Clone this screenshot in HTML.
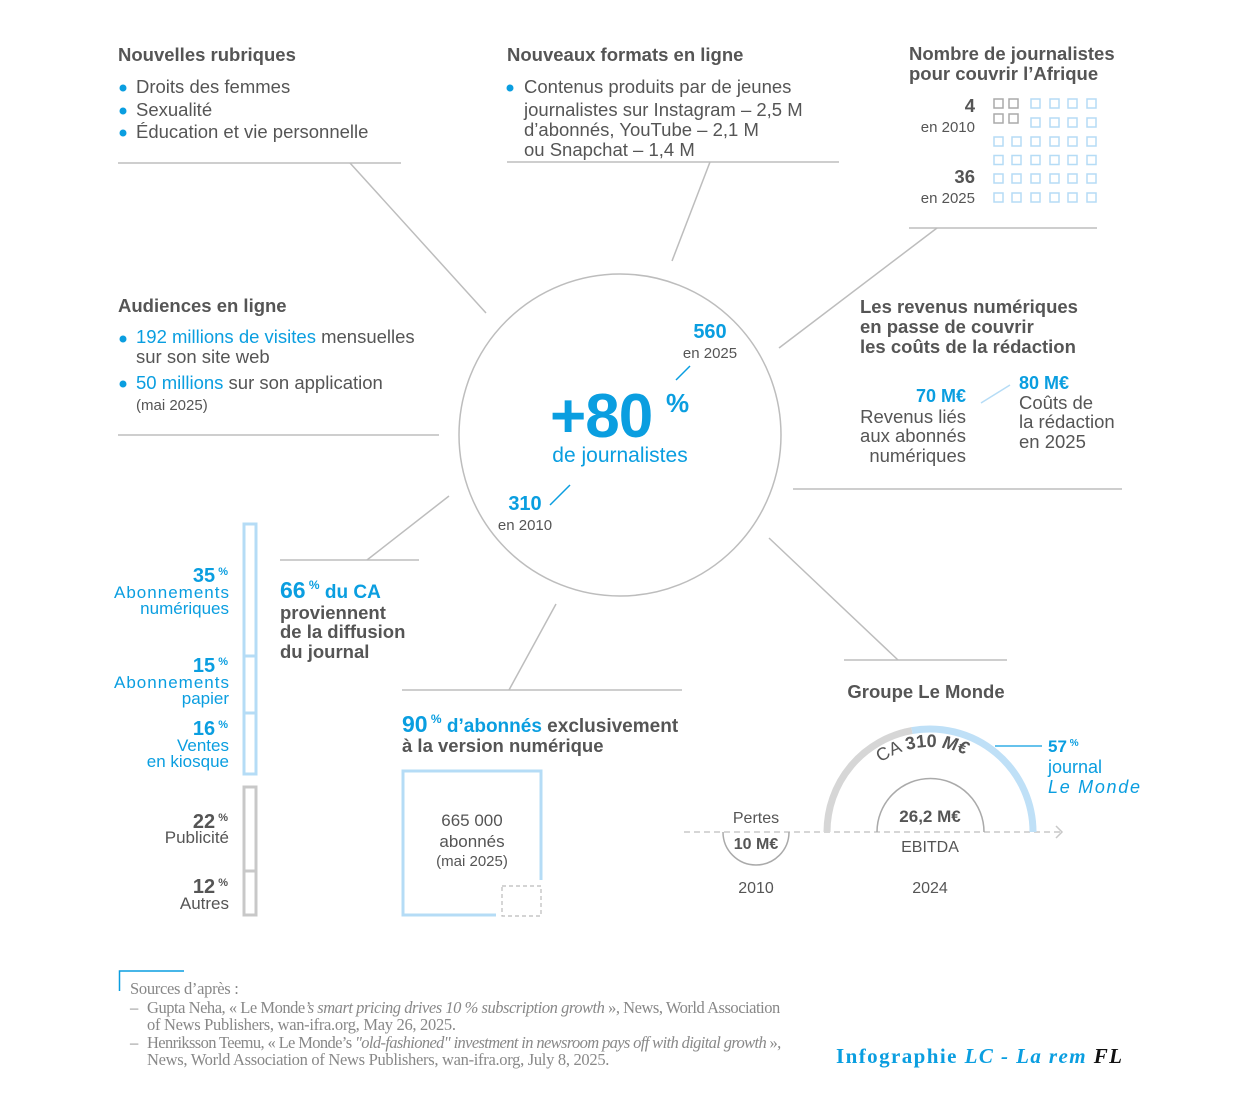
<!DOCTYPE html>
<html><head><meta charset="utf-8"><style>
html,body{margin:0;padding:0;background:#fff}
svg{display:block}
text{font-family:"Liberation Sans",sans-serif}
.h{font-size:18.5px;font-weight:bold;fill:#555}
.t{font-size:18.5px;fill:#555}
.b{fill:#0a9ee0}
.bb{fill:#0a9ee0;font-weight:bold}
.s{font-family:"Liberation Serif",serif;font-size:16.5px;fill:#888;letter-spacing:-0.3px}
</style></head><body>
<svg width="1240" height="1103" viewBox="0 0 1240 1103" xmlns="http://www.w3.org/2000/svg">
<g stroke="#bdbdbd" stroke-width="1.5" fill="none">
<line x1="118" y1="163" x2="401" y2="163"/><line x1="350" y1="163" x2="486" y2="313"/>
<line x1="507" y1="162" x2="839" y2="162"/><line x1="710" y1="162" x2="672" y2="261"/>
<line x1="909" y1="228" x2="1097" y2="228"/><line x1="937" y1="228" x2="779" y2="348"/>
<line x1="118" y1="435" x2="439" y2="435"/>
<line x1="793" y1="489" x2="1122" y2="489"/>
<line x1="769" y1="538" x2="898" y2="660"/><line x1="844" y1="660" x2="1007" y2="660"/>
<line x1="449" y1="496" x2="367" y2="560"/><line x1="280" y1="560" x2="419" y2="560"/>
<line x1="556" y1="604" x2="509" y2="690"/><line x1="402" y1="690" x2="682" y2="690"/>
<circle cx="620" cy="435" r="161"/>
</g>
<text class="h" x="118" y="61">Nouvelles rubriques</text>
<g fill="#0a9ee0"><circle cx="123" cy="88" r="3.5"/><circle cx="123" cy="111" r="3.5"/><circle cx="123" cy="133" r="3.5"/><circle cx="510" cy="88" r="3.5"/><circle cx="123" cy="339" r="3.5"/><circle cx="123" cy="384" r="3.5"/></g>
<text class="t" x="136" y="93">Droits des femmes</text>
<text class="t" x="136" y="116">Sexualité</text>
<text class="t" x="136" y="138">Éducation et vie personnelle</text>
<text class="h" x="507" y="61">Nouveaux formats en ligne</text>
<text class="t" x="524" y="93">Contenus produits par de jeunes</text>
<text class="t" x="524" y="116">journalistes sur Instagram – 2,5 M</text>
<text class="t" x="524" y="136">d’abonnés, YouTube – 2,1 M</text>
<text class="t" x="524" y="156">ou Snapchat – 1,4 M</text>
<text class="h" x="909" y="60">Nombre de journalistes</text>
<text class="h" x="909" y="80">pour couvrir l’Afrique</text>
<text class="h" x="975" y="112" text-anchor="end">4</text>
<text class="t" x="975" y="132" text-anchor="end" style="font-size:15px">en 2010</text>
<text class="h" x="975" y="183" text-anchor="end">36</text>
<text class="t" x="975" y="203" text-anchor="end" style="font-size:15px">en 2025</text>
<g fill="none" stroke="#b5dcf6" stroke-width="1.5">
<rect x="1031" y="99" width="9" height="9"/><rect x="1050" y="99" width="9" height="9"/><rect x="1068" y="99" width="9" height="9"/><rect x="1087" y="99" width="9" height="9"/>
<rect x="1031" y="118" width="9" height="9"/><rect x="1050" y="118" width="9" height="9"/><rect x="1068" y="118" width="9" height="9"/><rect x="1087" y="118" width="9" height="9"/>
<g id="r"><rect x="994" y="137" width="9" height="9"/><rect x="1012" y="137" width="9" height="9"/><rect x="1031" y="137" width="9" height="9"/><rect x="1050" y="137" width="9" height="9"/><rect x="1068" y="137" width="9" height="9"/><rect x="1087" y="137" width="9" height="9"/></g>
<use href="#r" y="18.5"/><use href="#r" y="37"/><use href="#r" y="56"/>
</g>
<g fill="none" stroke="#aaa" stroke-width="1.5">
<rect x="994" y="99" width="9" height="9"/><rect x="1009" y="99" width="9" height="9"/><rect x="994" y="114" width="9" height="9"/><rect x="1009" y="114" width="9" height="9"/>
</g>
<text class="h" x="118" y="312">Audiences en ligne</text>
<text class="t" x="136" y="343"><tspan class="b">192 millions de visites</tspan> mensuelles</text>
<text class="t" x="136" y="363">sur son site web</text>
<text class="t" x="136" y="389"><tspan class="b">50 millions</tspan> sur son application</text>
<text class="t" x="136" y="410" style="font-size:15px">(mai 2025)</text>
<text class="bb" x="710" y="338" text-anchor="middle" style="font-size:20px">560</text>
<text class="t" x="710" y="358" text-anchor="middle" style="font-size:15px">en 2025</text>
<line x1="690" y1="366" x2="676" y2="380" stroke="#0a9ee0" stroke-width="1.5"/>
<text class="bb" x="550" y="437" style="font-size:62px;letter-spacing:-1px">+80</text>
<text class="bb" x="666" y="412" style="font-size:26px">%</text>
<text class="b" x="620" y="462" text-anchor="middle" style="font-size:21px">de journalistes</text>
<text class="bb" x="525" y="510" text-anchor="middle" style="font-size:20px">310</text>
<text class="t" x="525" y="530" text-anchor="middle" style="font-size:15px">en 2010</text>
<line x1="550" y1="505" x2="570" y2="485" stroke="#0a9ee0" stroke-width="1.5"/>
<text class="h" x="860" y="313">Les revenus numériques</text>
<text class="h" x="860" y="333">en passe de couvrir</text>
<text class="h" x="860" y="353">les coûts de la rédaction</text>
<text class="bb" x="966" y="402" text-anchor="end" style="font-size:18px">70 M€</text>
<text class="t" x="966" y="423" text-anchor="end">Revenus liés</text>
<text class="t" x="966" y="442" text-anchor="end">aux abonnés</text>
<text class="t" x="966" y="462" text-anchor="end">numériques</text>
<line x1="981" y1="403" x2="1010" y2="385" stroke="#b5dcf6" stroke-width="1.5"/>
<text class="bb" x="1019" y="389" style="font-size:18px">80 M€</text>
<text class="t" x="1019" y="409">Coûts de</text>
<text class="t" x="1019" y="428">la rédaction</text>
<text class="t" x="1019" y="448">en 2025</text>
<text x="280" y="598" style="font-size:19px;font-weight:bold"><tspan class="bb" style="font-size:23px">66</tspan><tspan class="bb" dy="-9" style="font-size:12px"> %</tspan><tspan class="bb" dy="9"> du CA</tspan></text>
<text class="h" x="280" y="619">proviennent</text>
<text class="h" x="280" y="638">de la diffusion</text>
<text class="h" x="280" y="658">du journal</text>
<g fill="none" stroke-width="3">
<rect x="244" y="524" width="12" height="250" stroke="#b5dcf6"/>
<line x1="244" y1="656" x2="256" y2="656" stroke="#b5dcf6"/><line x1="244" y1="713" x2="256" y2="713" stroke="#b5dcf6"/>
<rect x="244" y="787" width="12" height="128" stroke="#c8c8c8"/>
<line x1="244" y1="871" x2="256" y2="871" stroke="#c8c8c8"/>
</g>
<g text-anchor="end" style="font-size:17px">
<text x="228" y="582" class="bb" style="font-size:20px">35<tspan dy="-7" style="font-size:11px"> %</tspan></text>
<text x="229" y="598" class="b" textLength="115">Abonnements</text><text x="229" y="614" class="b">numériques</text>
<text x="228" y="672" class="bb" style="font-size:20px">15<tspan dy="-7" style="font-size:11px"> %</tspan></text>
<text x="229" y="688" class="b" textLength="115">Abonnements</text><text x="229" y="704" class="b">papier</text>
<text x="228" y="735" class="bb" style="font-size:20px">16<tspan dy="-7" style="font-size:11px"> %</tspan></text>
<text x="229" y="751" class="b">Ventes</text><text x="229" y="767" class="b">en kiosque</text>
<text x="228" y="828" style="font-size:20px;font-weight:bold;fill:#555">22<tspan dy="-7" style="font-size:11px"> %</tspan></text>
<text x="229" y="843" fill="#555">Publicité</text>
<text x="228" y="893" style="font-size:20px;font-weight:bold;fill:#555">12<tspan dy="-7" style="font-size:11px"> %</tspan></text>
<text x="229" y="909" fill="#555">Autres</text>
</g>
<text x="402" y="732" style="font-size:19px;font-weight:bold"><tspan class="bb" style="font-size:23px">90</tspan><tspan class="bb" dy="-9" style="font-size:12px"> %</tspan><tspan class="bb" dy="9"> d’abonnés</tspan><tspan fill="#555"> exclusivement</tspan></text>
<text class="h" x="402" y="752">à la version numérique</text>
<path d="M496 915 H403 V771 H541 V880" fill="none" stroke="#b5dcf6" stroke-width="3"/>
<rect x="502" y="886" width="39" height="30" fill="none" stroke="#bbb" stroke-width="1.2" stroke-dasharray="4,3"/>
<g class="t" text-anchor="middle" style="font-size:17px">
<text x="472" y="826" fill="#555">665 000</text><text x="472" y="847" fill="#555">abonnés</text><text x="472" y="866" fill="#555" style="font-size:15px">(mai 2025)</text>
</g>
<text class="h" x="926" y="698" text-anchor="middle">Groupe Le Monde</text>
<line x1="684" y1="832" x2="1060" y2="832" stroke="#c8c8c8" stroke-width="1.5" stroke-dasharray="6,4"/>
<path d="M1056 826 L1062 832 L1056 838" fill="none" stroke="#c8c8c8" stroke-width="1.5"/>
<path d="M827 832 A103 103 0 0 1 912 730.6" fill="none" stroke="#d6d6d6" stroke-width="7"/>
<path d="M912 730.6 A103 103 0 0 1 1033 832" fill="none" stroke="#bfe0f7" stroke-width="7"/>
<path d="M877 832 A53.5 53.5 0 0 1 984 832" fill="none" stroke="#aaa" stroke-width="1.5"/>
<path d="M723 832 A33 33 0 0 0 789 832" fill="none" stroke="#aaa" stroke-width="1.5"/>
<defs><path id="arc" d="M845 832 A85 85 0 0 1 1015 832"/></defs>
<text style="font-size:18px;fill:#555"><textPath href="#arc" startOffset="47%" text-anchor="middle">CA <tspan font-weight="bold">310 </tspan><tspan font-weight="bold" font-style="italic">M€</tspan></textPath></text>
<text class="h" x="930" y="822" text-anchor="middle" style="font-size:17px">26,2 M€</text>
<text class="t" x="930" y="852" text-anchor="middle" style="font-size:16px">EBITDA</text>
<text class="t" x="756" y="823" text-anchor="middle" style="font-size:16px">Pertes</text>
<text class="h" x="756" y="849" text-anchor="middle" style="font-size:16px">10 M€</text>
<text class="t" x="756" y="893" text-anchor="middle" style="font-size:16px">2010</text>
<text class="t" x="930" y="893" text-anchor="middle" style="font-size:16px">2024</text>
<line x1="995" y1="746" x2="1042" y2="746" stroke="#0a9ee0" stroke-width="1.2"/>
<text class="bb" x="1048" y="752" style="font-size:17px">57<tspan dy="-6" style="font-size:10px"> %</tspan></text>
<text class="b" x="1048" y="773" style="font-size:18px">journal</text>
<text class="b" x="1048" y="793" style="font-size:18px;font-style:italic" textLength="92">Le Monde</text>
<path d="M184 971 H119.5 V991" fill="none" stroke="#0a9ee0" stroke-width="1.5"/>
<text class="s" x="130" y="994">Sources d’après :</text>
<text class="s" x="130" y="1013">–</text>
<text class="s" x="147" y="1013" textLength="633">Gupta Neha, « Le Monde<tspan font-style="italic">’s smart pricing drives 10 % subscription growth</tspan> », News, World Association</text>
<text class="s" x="147" y="1030">of News Publishers, wan-ifra.org, May 26, 2025.</text>
<text class="s" x="130" y="1048">–</text>
<text class="s" x="147" y="1048" textLength="634">Henriksson Teemu, « Le Monde’s <tspan font-style="italic">"old-fashioned" investment in newsroom pays off with digital growth</tspan> »,</text>
<text class="s" x="147" y="1065">News, World Association of News Publishers, wan-ifra.org, July 8, 2025.</text>
<text x="836" y="1063" textLength="286" style="font-family:'Liberation Serif',serif;font-size:21px;font-weight:bold;fill:#0a9ee0">Infographie <tspan font-style="italic">LC - La rem</tspan>  <tspan fill="#111" font-style="italic">FL</tspan></text>
</svg>
</body></html>
